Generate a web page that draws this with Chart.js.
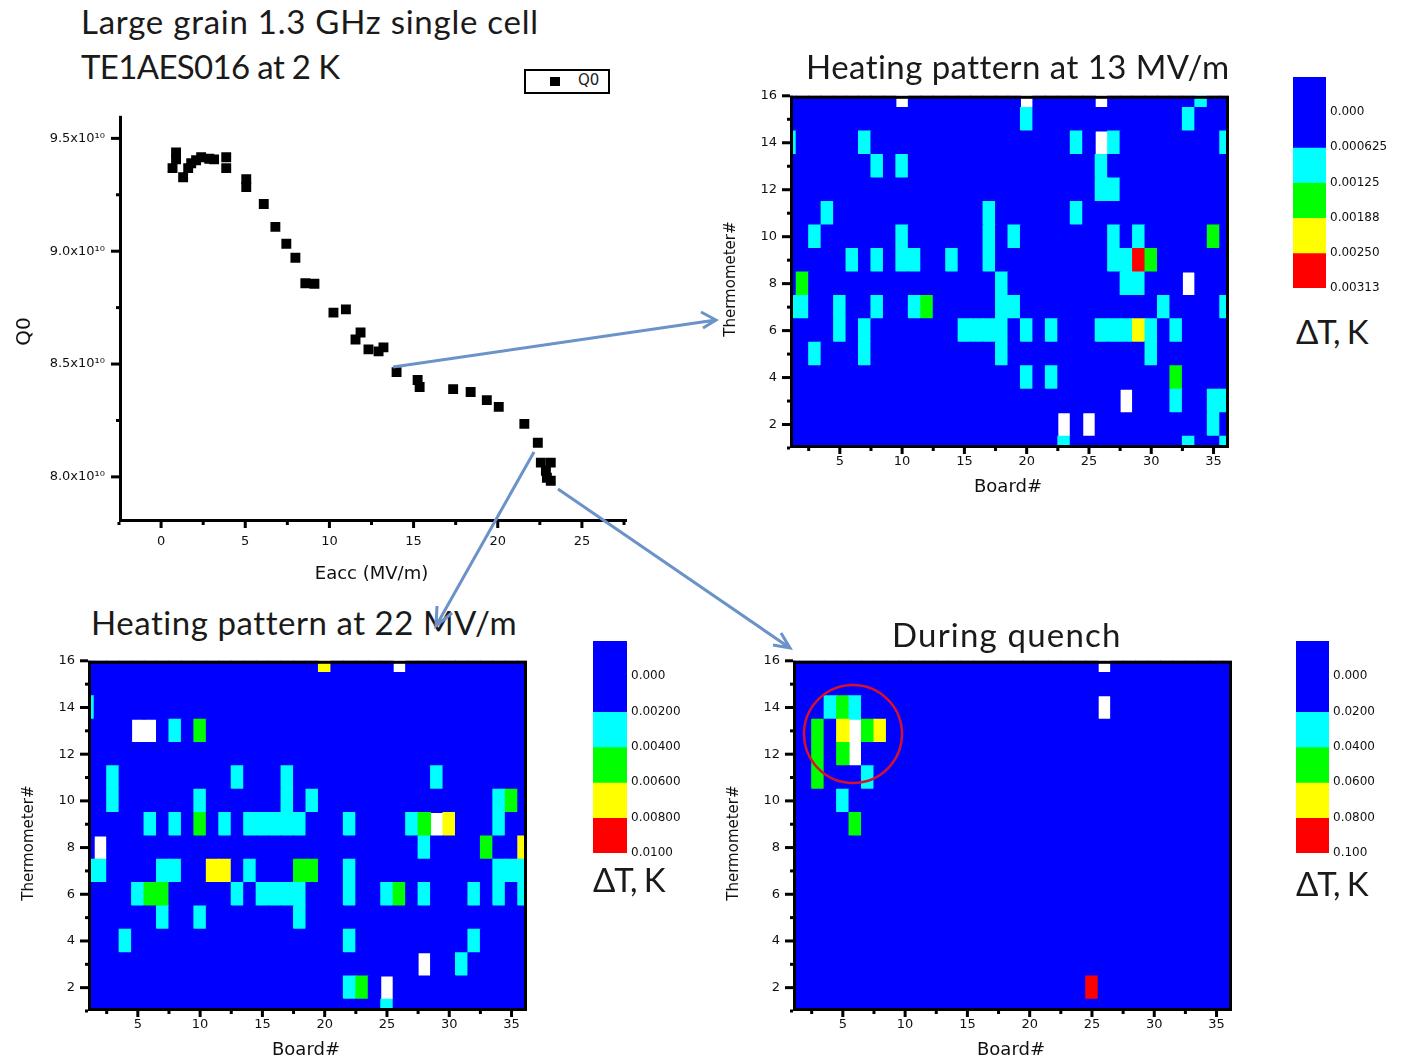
<!DOCTYPE html>
<html>
<head>
<meta charset="utf-8">
<title>Heating pattern</title>
<script src="https://cdn.jsdelivr.net/npm/chart.js@4/dist/chart.umd.min.js"></script>
<style>
html,body{margin:0;padding:0;background:#fff}
#page{position:relative;width:1402px;height:1060px;overflow:hidden}
#page canvas{position:absolute}
.big{position:absolute;font-family:Lato,sans-serif;font-size:33px;line-height:36px;color:#1a1a1a;white-space:nowrap}
#legend{position:absolute;left:524px;top:69px;width:82px;height:21px;border:2.5px solid #000}
#legend i{position:absolute;left:24px;top:6px;width:10px;height:9px;background:#000}
#legend span{position:absolute;left:52px;top:0;font:15px "DejaVu Sans",sans-serif;color:#222}
#notes{position:absolute;left:0;top:0}
</style>
</head>
<body>
<div id="page">
<div id="charts"></div>
<div class="big" style="left:81px;top:3px;letter-spacing:0.75px">Large grain 1.3 GHz single cell</div>
<div class="big" style="left:81px;top:48px;letter-spacing:-0.65px">TE1AES016 at 2 K</div>
<div class="big" style="left:806px;top:48px;letter-spacing:0.45px">Heating pattern at 13 MV/m</div>
<div class="big" style="left:91px;top:604px;letter-spacing:0.55px">Heating pattern at 22 MV/m</div>
<div class="big" style="left:892px;top:616px;letter-spacing:1.2px">During quench</div>
<div class="big" style="left:1296px;top:313px;letter-spacing:-1.2px">ΔT, K</div>
<div class="big" style="left:593px;top:861px;letter-spacing:-1.2px">ΔT, K</div>
<div class="big" style="left:1296px;top:865px;letter-spacing:-1.2px">ΔT, K</div>
<div id="legend"><i></i><span>Q0</span></div>
<svg id="notes" width="1402" height="1060">
<g fill="none" stroke="#6b92c9" stroke-width="3">
<path d="M393 367L716 320M701 312L716 320L703 328"/>
<path d="M534 452L436 626M437 606L436 626L452 613"/>
<path d="M558 489L790 648M781 633L790 648L773 645"/>
</g>
<circle cx="853" cy="734" r="49" fill="none" stroke="#d8102a" stroke-width="2.5"/>
</svg>
</div>

<script>
const eacc=[0.68,0.89,0.89,1.31,1.61,1.79,2.08,2.38,2.86,3.15,3.87,3.87,5.06,5.06,6.10,6.79,7.44,7.98,8.57,9.11,10.24,10.98,11.55,11.85,12.32,12.92,13.21,13.99,15.24,15.36,17.35,18.39,19.35,20.06,21.58,22.38,22.56,23.15,22.86,22.92,23.15]
const q0=[9.368,9.438,9.407,9.328,9.368,9.39,9.403,9.416,9.41,9.407,9.416,9.368,9.319,9.284,9.209,9.108,9.033,8.971,8.858,8.856,8.728,8.742,8.609,8.640,8.565,8.556,8.574,8.464,8.429,8.398,8.389,8.376,8.340,8.310,8.235,8.151,8.063,8.063,8.027,7.996,7.983]

// each row is [thermometer, [boards]]
const cyan13=[[16,[34]],[15,[20,33]],[14,[1,7,24,27,36]],[13,[8,10,26]],[12,[26,27]],[11,[4,17,24]],[10,[3,10,17,19,27,29]],[9,[6,8,10,11,14,17,27,28]],[8,[18,28,29]],[7,[1,2,5,8,11,18,19,31,36]],[6,[5,7,15,16,17,18,20,22,26,27,28,30,32]],[5,[3,7,18,30]],[4,[20,22]],[3,[32,35,36]],[2,[35]],[1,[23,33,36]]]
const green13=[[10,[35]],[9,[30]],[8,[2]],[7,[12]],[4,[32]]]
const yellow13=[[6,[29]]]
const red13=[[9,[29]]]
const blank13=[[16,[10,20,26]],[14,[26]],[8,[33]],[3,[28]],[2,[23,25]]]

const cyan22=[[14,[1]],[13,[8]],[11,[3,13,17,29]],[10,[3,10,17,19,34]],[9,[6,8,12,14,15,16,17,18,22,27,34]],[8,[28]],[7,[1,2,7,8,14,22,34,35,36]],[6,[5,13,15,16,17,18,22,25,28,32,34,36]],[5,[7,10,18]],[4,[4,22,32]],[3,[31]],[2,[22]],[1,[25]]]
const green22=[[13,[10]],[10,[35]],[9,[10,28]],[8,[33]],[7,[18,19]],[6,[6,7,26]],[2,[23]]]
const yellow22=[[16,[20]],[9,[30]],[8,[36]],[7,[11,12]]]
const red22=[]
const blank22=[[16,[26]],[13,[5,6]],[9,[29]],[8,[2]],[3,[28]],[2,[25]]]

const cyanQuench=[[14,[4,6]],[11,[7]],[10,[5]]]
const greenQuench=[[14,[5]],[13,[3,7]],[12,[3,5]],[11,[3]],[9,[6]]]
const yellowQuench=[[13,[5,8]]]
const redQuench=[[2,[25]]]
const blankQuench=[[16,[26]],[14,[26]],[13,[6]],[12,[6]]]

const boardTicks=[2.5,5,7.5,10,12.5,15,17.5,20,22.5,25,27.5,30,32.5,35]
const scale13=["0.000","0.000625","0.00125","0.00188","0.00250","0.00313"]
const scale22=["0.000","0.00200","0.00400","0.00600","0.00800","0.0100"]
const scaleQuench=["0.000","0.0200","0.0400","0.0600","0.0800","0.100"]
const scaleEdges=[-1,1,2,3,4,5]

const COLORS=["#0000ff","#00ffff","#00ff00","#ffff00","#ff0000"]
const TICK_FONT={family:"DejaVu Sans",size:13}
const TEXT="#111"

const holder=document.getElementById("charts")

function isWhole(v){
return Math.abs(v-Math.round(v))<1e-6
}

// thick axis lines and long/short ticks, placed from the chart's own scales
const axisFrame={
id:"axisFrame",
afterDatasetsDraw(chart,args,opts){
const ctx=chart.ctx
const a=chart.chartArea
ctx.save()
ctx.fillStyle="#000"
ctx.fillRect(a.left,a.top,3,a.bottom-a.top)
ctx.fillRect(a.left,a.bottom-3,a.right-a.left+3,3)
if(opts.box){
ctx.fillRect(a.left,a.top,a.right-a.left+3,3)
ctx.fillRect(a.right,a.top,3,a.bottom-a.top)
}
chart.scales.x.ticks.forEach(t=>{
const p=chart.scales.x.getPixelForValue(t.value)
const len=isWhole(t.value/5)?6:3
ctx.fillRect(p-1.5,a.bottom,3,len)
})
chart.scales.y.ticks.forEach(t=>{
const p=chart.scales.y.getPixelForValue(t.value)
const len=isWhole(t.value/opts.yMajor)?8:3
ctx.fillRect(a.left-len,p-1.5,len,3)
})
ctx.restore()
}
}

function placeCanvas(left,top,right,bottom,axisW,axisH){
const pad=12
const c=document.createElement("canvas")
c.width=right-left+axisW+pad
c.height=bottom-top+axisH+pad
c.style.left=(left-axisW)+"px"
c.style.top=(top-pad)+"px"
holder.appendChild(c)
return {ctx:c,pad:{top:pad,right:pad,left:0,bottom:0}}
}

function rowsToLevels(cyan,green,yellow,red,blank){
const levels={}
const mark=(rows,level)=>rows.forEach(r=>r[1].forEach(b=>{levels[r[0]+"_"+b]=level}))
mark(cyan,1)
mark(green,2)
mark(yellow,3)
mark(red,4)
mark(blank,-1)
return levels
}

function heatmap(left,top,right,bottom,cyan,green,yellow,red,blank){
const place=placeCanvas(left,top,right,bottom,72,54)
const levels=rowsToLevels(cyan,green,yellow,red,blank)
const datasets=[]
for(let t=1;t<=16;t++){
const data=[]
const colors=[]
for(let b=1;b<=36;b++){
const lv=levels[t+"_"+b]
data.push({x:b,y:lv===-1?null:[t-0.5,t+0.5]})
colors.push(COLORS[lv||0])
}
datasets.push({data:data,backgroundColor:colors,barPercentage:1,categoryPercentage:1,grouped:false,inflateAmount:0.5})
}
new Chart(place.ctx,{
type:"bar",
data:{datasets:datasets},
plugins:[axisFrame],
options:{
responsive:false,
animation:false,
layout:{padding:place.pad,autoPadding:false},
plugins:{legend:{display:false},tooltip:{enabled:false},axisFrame:{box:true,yMajor:2}},
scales:{
x:{
type:"linear",min:1,max:36,offset:false,
afterFit:s=>{s.height=54},
afterBuildTicks:s=>{s.ticks=boardTicks.map(v=>({value:v}))},
grid:{display:false,tickLength:6},
border:{display:false},
ticks:{padding:0,maxRotation:0,autoSkip:false,color:TEXT,font:TICK_FONT,
callback:v=>isWhole(v/5)?String(v):""},
title:{display:true,text:"Board#",color:TEXT,font:{family:"DejaVu Sans",size:18}}
},
y:{
type:"linear",min:1,max:16,
afterFit:s=>{s.width=72},
grid:{display:false,tickLength:8},
border:{display:false},
ticks:{stepSize:1,includeBounds:false,padding:5,autoSkip:false,color:TEXT,font:TICK_FONT,
callback:v=>v%2===0?String(v):""},
title:{display:true,text:"Thermometer#\u00a0\u00a0\u00a0",color:TEXT,font:{family:"DejaVu Sans",size:15}}
}
}
}
})
}

function colorBar(left,top,right,bottom,labels){
const pad=12
const c=document.createElement("canvas")
c.width=right-left+80
c.height=bottom-top+2*pad
c.style.left=left+"px"
c.style.top=(top-pad)+"px"
holder.appendChild(c)
const datasets=COLORS.map((col,i)=>({
data:[[scaleEdges[i],scaleEdges[i+1]]],
backgroundColor:col,barPercentage:1,categoryPercentage:1,grouped:false
}))
new Chart(c,{
type:"bar",
data:{labels:[""],datasets:datasets},
options:{
responsive:false,
animation:false,
layout:{padding:{top:pad,left:0,right:0,bottom:pad},autoPadding:false},
plugins:{legend:{display:false},tooltip:{enabled:false}},
scales:{
x:{display:false},
y:{
position:"right",reverse:true,min:-1,max:5,
afterFit:s=>{s.width=80},
grid:{display:false,drawTicks:false},
border:{display:false},
ticks:{stepSize:1,padding:4,autoSkip:false,color:TEXT,font:{family:"DejaVu Sans",size:12},
callback:v=>v>=0?labels[v]:""}
}
}
}
})
}

function scatter(){
const place=placeCanvas(119,114,624,522,110,67)
new Chart(place.ctx,{
type:"scatter",
data:{datasets:[{
label:"Q0",
data:eacc.map((x,i)=>({x:x,y:q0[i]})),
backgroundColor:"#000",borderColor:"#000",pointStyle:"rect",pointRadius:7,pointBorderWidth:0
}]},
plugins:[axisFrame],
options:{
responsive:false,
animation:false,
layout:{padding:place.pad,autoPadding:false},
plugins:{legend:{display:false},tooltip:{enabled:false},axisFrame:{box:false,yMajor:0.5}},
scales:{
x:{
type:"linear",min:-2.5,max:27.5,
afterFit:s=>{s.height=67},
grid:{display:false,tickLength:6},
border:{display:false},
ticks:{stepSize:2.5,includeBounds:false,padding:6,maxRotation:0,autoSkip:false,color:TEXT,font:TICK_FONT,
callback:v=>isWhole(v/5)?String(v):""},
title:{display:true,text:"Eacc (MV/m)",color:TEXT,font:{family:"DejaVu Sans",size:18}}
},
y:{
type:"linear",min:7.8,max:9.6,
afterFit:s=>{s.width=110},
grid:{display:false,tickLength:8},
border:{display:false},
ticks:{stepSize:0.25,includeBounds:false,padding:6,autoSkip:false,color:TEXT,font:TICK_FONT,
callback:v=>isWhole(v*2)?v.toFixed(1)+"x10¹⁰":""},
title:{display:true,text:"Q0\u00a0\u00a0\u00a0\u00a0",color:TEXT,font:{family:"DejaVu Sans",size:20}}
}
}
}
})
}

scatter()
heatmap(790,95,1226,448,cyan13,green13,yellow13,red13,blank13)
heatmap(88,660,524,1011,cyan22,green22,yellow22,red22,blank22)
heatmap(793,660,1229,1011,cyanQuench,greenQuench,yellowQuench,redQuench,blankQuench)
colorBar(1293,77,1326,288,scale13)
colorBar(593,641,627,853,scale22)
colorBar(1296,641,1329,853,scaleQuench)
</script>
</body>
</html>
